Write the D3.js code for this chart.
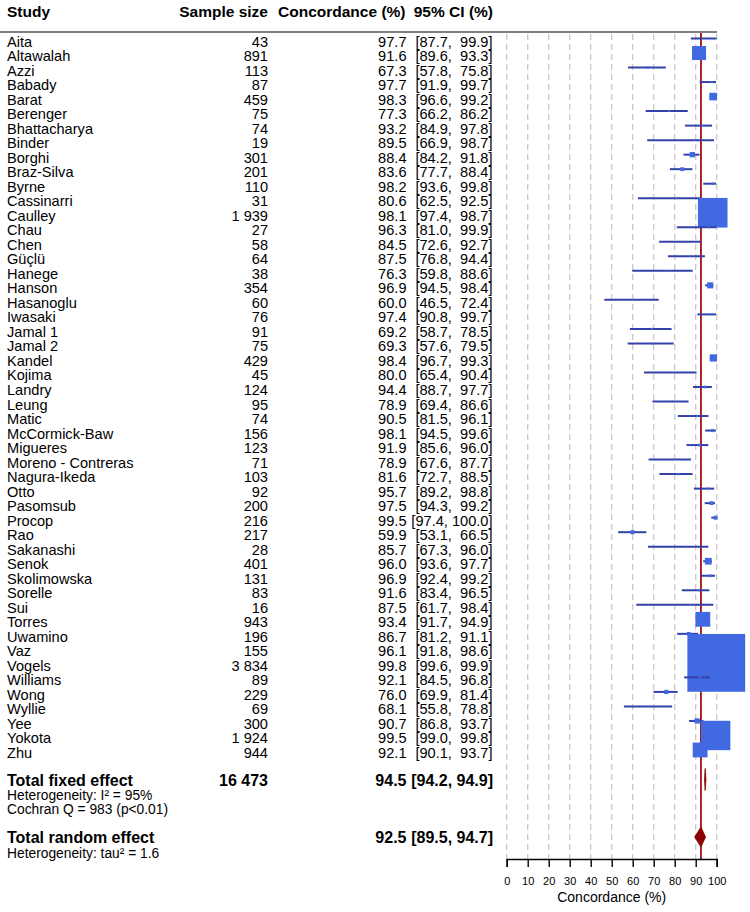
<!DOCTYPE html>
<html><head><meta charset="utf-8">
<script src="https://cdn.jsdelivr.net/npm/d3@7"></script>
<style>
html,body{margin:0;padding:0;background:#fff;}
svg text{font-family:"Liberation Sans",Arial,sans-serif;white-space:pre;}
</style></head>
<body><svg id="chart" width="750" height="912"></svg>
<script>
const studies = ["Aita","Altawalah","Azzi","Babady","Barat","Berenger","Bhattacharya","Binder","Borghi","Braz-Silva","Byrne","Cassinarri","Caulley","Chau","Chen","Güçlü","Hanege","Hanson","Hasanoglu","Iwasaki","Jamal 1","Jamal 2","Kandel","Kojima","Landry","Leung","Matic","McCormick-Baw","Migueres","Moreno - Contreras","Nagura-Ikeda","Otto","Pasomsub","Procop","Rao","Sakanashi","Senok","Skolimowska","Sorelle","Sui","Torres","Uwamino","Vaz","Vogels","Williams","Wong","Wyllie","Yee","Yokota","Zhu"];
const sampleSizes = [43,891,113,87,459,75,74,19,301,201,110,31,1939,27,58,64,38,354,60,76,91,75,429,45,124,95,74,156,123,71,103,92,200,216,217,28,401,131,83,16,943,196,155,3834,89,229,69,300,1924,944];
const concordance = [97.7,91.6,67.3,97.7,98.3,77.3,93.2,89.5,88.4,83.6,98.2,80.6,98.1,96.3,84.5,87.5,76.3,96.9,60.0,97.4,69.2,69.3,98.4,80.0,94.4,78.9,90.5,98.1,91.9,78.9,81.6,95.7,97.5,99.5,59.9,85.7,96.0,96.9,91.6,87.5,93.4,86.7,96.1,99.8,92.1,76.0,68.1,90.7,99.5,92.1];
const ciLower = [87.7,89.6,57.8,91.9,96.6,66.2,84.9,66.9,84.2,77.7,93.6,62.5,97.4,81.0,72.6,76.8,59.8,94.5,46.5,90.8,58.7,57.6,96.7,65.4,88.7,69.4,81.5,94.5,85.6,67.6,72.7,89.2,94.3,97.4,53.1,67.3,93.6,92.4,83.4,61.7,91.7,81.2,91.8,99.6,84.5,69.9,55.8,86.8,99.0,90.1];
const ciUpper = [99.9,93.3,75.8,99.7,99.2,86.2,97.8,98.7,91.8,88.4,99.8,92.5,98.7,99.9,92.7,94.4,88.6,98.4,72.4,99.7,78.5,79.5,99.3,90.4,97.7,86.6,96.1,99.6,96.0,87.7,88.5,98.8,99.2,100.0,66.5,96.0,97.7,99.2,96.5,98.4,94.9,91.1,98.6,99.9,96.8,81.4,78.8,93.7,99.8,93.7];

const totalLabels = ["Total fixed effect","Total random effect"];
const totalN = [16473, null];
const totalEst = [94.5, 92.5];
const totalLower = [94.2, 89.5];
const totalUpper = [94.9, 94.7];
const heterogeneityFixed = ["Heterogeneity: I\u00B2 = 95%","Cochran Q = 983 (p<0.01)"];
const heterogeneityRandom = ["Heterogeneity: tau\u00B2 = 1.6"];
const headers = ["Study","Sample size","Concordance (%)","95% CI (%)"];
const xTicks = [0,10,20,30,40,50,60,70,80,90,100];
const xTitle = "Concordance (%)";

const svg = d3.select("#chart");
const x = d3.scaleLinear().domain([0,100]).range([506.7,716.7]);
const y = d3.scalePoint().domain(studies).range([38.5,750]);
const boxSide = d3.scaleLinear().domain([0, d3.max(sampleSizes)]).range([0,57]);

const topY = 32, axisY = 859;
const fixedY = 779.5, randomY = 837;
const colSample = 268, colConc = 406.5, colCI = 492.5;

const fmtN = n => d3.format(",")(n).replace(/,/g," ");
const f1 = v => v.toFixed(1);
const pad = (s,w) => " ".repeat(Math.max(0,w-s.length)) + s;
const ciText = (lo,hi) => "[" + pad(f1(lo),4) + ", " + pad(f1(hi),5) + "]";

// grid lines
svg.append("g").selectAll("line").data(xTicks).join("line")
  .attr("x1",d=>x(d)).attr("x2",d=>x(d)).attr("y1",topY+2).attr("y2",axisY)
  .attr("stroke","#c8c8c8").attr("stroke-width",1.3).attr("stroke-dasharray","6,4");

// header
const hdr = svg.append("g").attr("font-weight","bold").attr("font-size","15.5px").attr("fill","#000");
hdr.append("text").attr("x",7).attr("y",17).text(headers[0]);
hdr.append("text").attr("x",colSample).attr("y",17).attr("text-anchor","end").text(headers[1]);
hdr.append("text").attr("x",405.5).attr("y",17).attr("text-anchor","end").text(headers[2]);
hdr.append("text").attr("x",493).attr("y",17).attr("text-anchor","end").text(headers[3]);
svg.append("line").attr("x1",0).attr("x2",717).attr("y1",topY).attr("y2",topY)
  .attr("stroke","#808080").attr("stroke-width",2);

// study text
const rows = svg.append("g").attr("font-size","14.6px").attr("fill","#000");
studies.forEach((s,i)=>{
  const ty = y(s)+8;
  rows.append("text").attr("x",7).attr("y",ty).text(s);
  rows.append("text").attr("x",colSample).attr("y",ty).attr("text-anchor","end").text(fmtN(sampleSizes[i]));
  rows.append("text").attr("x",colConc).attr("y",ty).attr("text-anchor","end").text(f1(concordance[i]));
  rows.append("text").attr("x",colCI).attr("y",ty).attr("text-anchor","end").text(ciText(ciLower[i],ciUpper[i]));
});

// random effect reference line
svg.append("line").attr("x1",x(totalEst[1])).attr("x2",x(totalEst[1]))
  .attr("y1",topY+1).attr("y2",axisY).attr("stroke","#a50f0f").attr("stroke-width",1.8);

// study marks
const marks = svg.append("g");
studies.forEach((s,i)=>{
  const cy = y(s);
  marks.append("line").attr("x1",x(ciLower[i])).attr("x2",x(ciUpper[i]))
    .attr("y1",cy).attr("y2",cy).attr("stroke","#3341a8").attr("stroke-width",2);
  const side = Math.max(1.8, boxSide(sampleSizes[i]) + 0.8);
  marks.append("rect").attr("x",x(concordance[i])-side/2).attr("y",cy-side/2)
    .attr("width",side).attr("height",side).attr("fill","#4169e1");
});

// totals
const totYs = [fixedY, randomY];
const diamH = [22, 20];
const tot = svg.append("g").attr("font-weight","bold").attr("font-size","16px").attr("fill","#000");
totalLabels.forEach((lab,i)=>{
  const ty = totYs[i]+6;
  tot.append("text").attr("x",7).attr("y",ty).text(lab);
  if(totalN[i]!==null) tot.append("text").attr("x",colSample).attr("y",ty).attr("text-anchor","end").text(fmtN(totalN[i]));
  tot.append("text").attr("x",colConc).attr("y",ty).attr("text-anchor","end").text(f1(totalEst[i]));
  tot.append("text").attr("x",493).attr("y",ty).attr("text-anchor","end").text("[" + f1(totalLower[i]) + ", " + f1(totalUpper[i]) + "]");
  const h = diamH[i]/2, cy = totYs[i];
  svg.append("polygon")
    .attr("points",[[x(totalLower[i]),cy],[x(totalEst[i]),cy-h],[x(totalUpper[i]),cy],[x(totalEst[i]),cy+h]].map(p=>p.join(",")).join(" "))
    .attr("fill","#8b0000").attr("stroke","#8b0000").attr("stroke-width",0.8);
});

const het = svg.append("g").attr("font-size","13.8px").attr("fill","#000");
heterogeneityFixed.forEach((t,i)=> het.append("text").attr("x",7).attr("y",799.5+i*14).text(t));
heterogeneityRandom.forEach((t,i)=> het.append("text").attr("x",7).attr("y",858+i*14).text(t));

// axis
const axis = d3.axisBottom(x).tickValues(xTicks).tickSize(8).tickPadding(10).tickFormat(d3.format("d"));
const ax = svg.append("g").attr("transform",`translate(0,${axisY})`).call(axis);
ax.select(".domain").attr("stroke","#000").attr("stroke-width",1.4);
ax.selectAll(".tick line").attr("stroke","#000").attr("stroke-width",1.4);
ax.selectAll(".tick text").attr("font-family","'Liberation Sans',Arial,sans-serif").attr("font-size","11px").attr("fill","#000");
svg.append("text").attr("x",(x(0)+x(100))/2).attr("y",901.5).attr("text-anchor","middle")
  .attr("font-size","14px").attr("fill","#000").text(xTitle);
</script></body></html>
